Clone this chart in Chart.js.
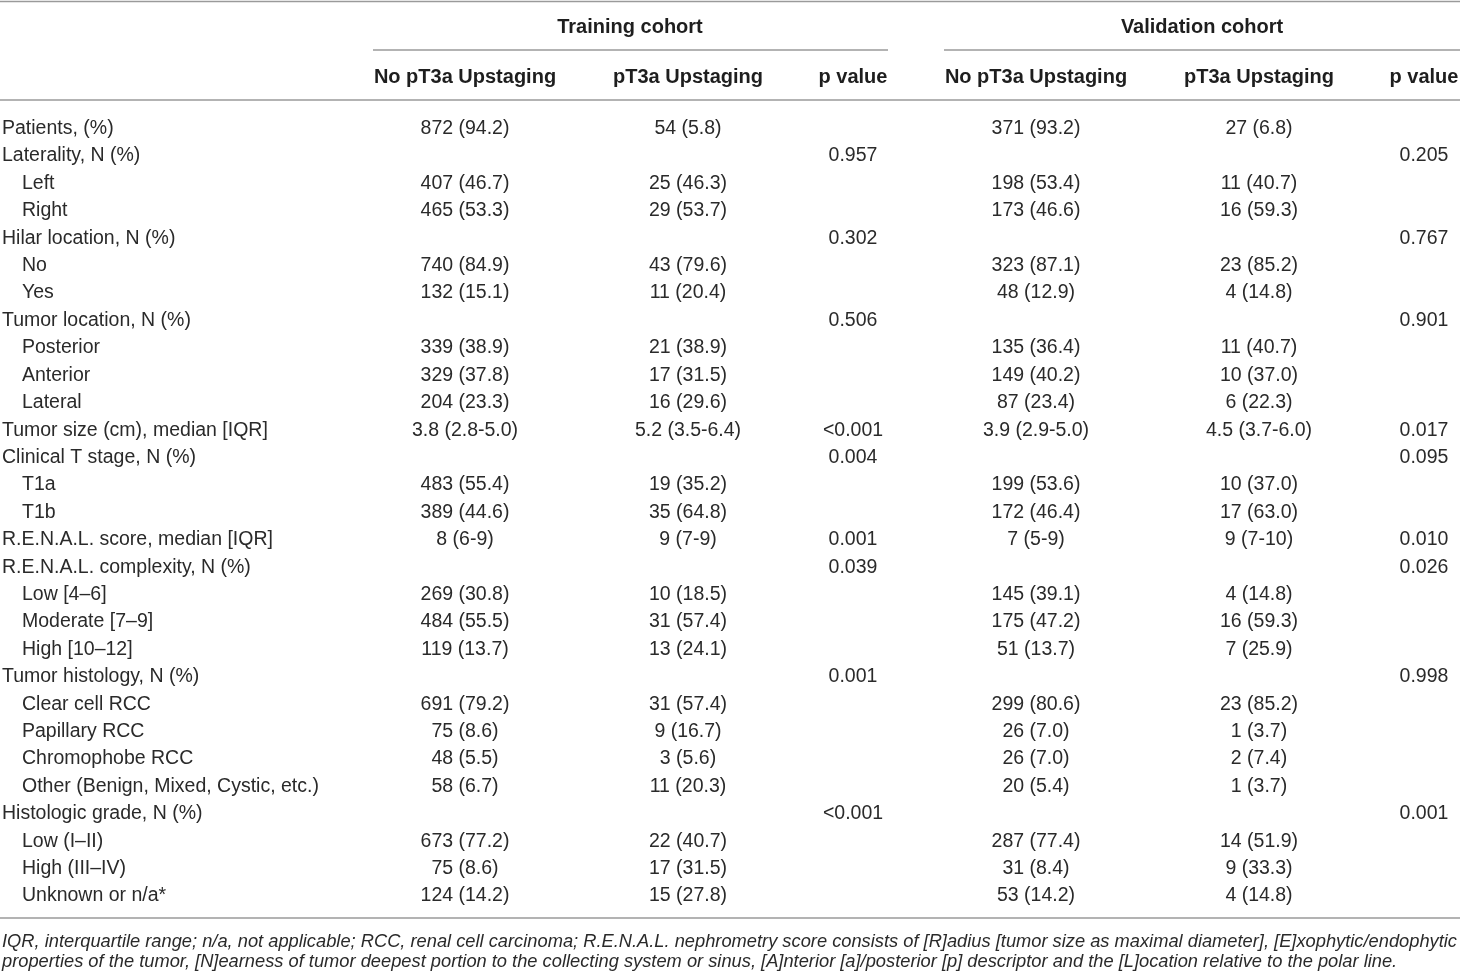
<!DOCTYPE html>
<html>
<head>
<meta charset="utf-8">
<script src="https://cdn.jsdelivr.net/npm/chart.js@4.4.1/dist/chart.umd.min.js"></script>
<style>
  html, body { margin: 0; padding: 0; background: #fff; overflow: hidden; }
  #wrap { width: 1460px; height: 975px; position: relative; }
</style>
</head>
<body>
<div id="wrap"><canvas id="tableChart"></canvas></div>
<script>
// Row labels (level 1 = indented sub-row)
const rowLabels = [
  'Patients, (%)', 'Laterality, N (%)', 'Left', 'Right',
  'Hilar location, N (%)', 'No', 'Yes',
  'Tumor location, N (%)', 'Posterior', 'Anterior', 'Lateral',
  'Tumor size (cm), median [IQR]',
  'Clinical T stage, N (%)', 'T1a', 'T1b',
  'R.E.N.A.L. score, median [IQR]',
  'R.E.N.A.L. complexity, N (%)', 'Low [4–6]', 'Moderate [7–9]', 'High [10–12]',
  'Tumor histology, N (%)', 'Clear cell RCC', 'Papillary RCC', 'Chromophobe RCC', 'Other (Benign, Mixed, Cystic, etc.)',
  'Histologic grade, N (%)', 'Low (I–II)', 'High (III–IV)', 'Unknown or n/a*'
];
const rowLevel = [0,0,1,1, 0,1,1, 0,1,1,1, 0, 0,1,1, 0, 0,1,1,1, 0,1,1,1,1, 0,1,1,1];

// Training cohort
const trainNo = [
  '872 (94.2)', '', '407 (46.7)', '465 (53.3)',
  '', '740 (84.9)', '132 (15.1)',
  '', '339 (38.9)', '329 (37.8)', '204 (23.3)',
  '3.8 (2.8-5.0)',
  '', '483 (55.4)', '389 (44.6)',
  '8 (6-9)',
  '', '269 (30.8)', '484 (55.5)', '119 (13.7)',
  '', '691 (79.2)', '75 (8.6)', '48 (5.5)', '58 (6.7)',
  '', '673 (77.2)', '75 (8.6)', '124 (14.2)'
];
const trainUp = [
  '54 (5.8)', '', '25 (46.3)', '29 (53.7)',
  '', '43 (79.6)', '11 (20.4)',
  '', '21 (38.9)', '17 (31.5)', '16 (29.6)',
  '5.2 (3.5-6.4)',
  '', '19 (35.2)', '35 (64.8)',
  '9 (7-9)',
  '', '10 (18.5)', '31 (57.4)', '13 (24.1)',
  '', '31 (57.4)', '9 (16.7)', '3 (5.6)', '11 (20.3)',
  '', '22 (40.7)', '17 (31.5)', '15 (27.8)'
];
const trainP = [
  '', '0.957', '', '',
  '0.302', '', '',
  '0.506', '', '', '',
  '<0.001',
  '0.004', '', '',
  '0.001',
  '0.039', '', '', '',
  '0.001', '', '', '', '',
  '<0.001', '', '', ''
];

// Validation cohort
const valNo = [
  '371 (93.2)', '', '198 (53.4)', '173 (46.6)',
  '', '323 (87.1)', '48 (12.9)',
  '', '135 (36.4)', '149 (40.2)', '87 (23.4)',
  '3.9 (2.9-5.0)',
  '', '199 (53.6)', '172 (46.4)',
  '7 (5-9)',
  '', '145 (39.1)', '175 (47.2)', '51 (13.7)',
  '', '299 (80.6)', '26 (7.0)', '26 (7.0)', '20 (5.4)',
  '', '287 (77.4)', '31 (8.4)', '53 (14.2)'
];
const valUp = [
  '27 (6.8)', '', '11 (40.7)', '16 (59.3)',
  '', '23 (85.2)', '4 (14.8)',
  '', '11 (40.7)', '10 (37.0)', '6 (22.3)',
  '4.5 (3.7-6.0)',
  '', '10 (37.0)', '17 (63.0)',
  '9 (7-10)',
  '', '4 (14.8)', '16 (59.3)', '7 (25.9)',
  '', '23 (85.2)', '1 (3.7)', '2 (7.4)', '1 (3.7)',
  '', '14 (51.9)', '9 (33.3)', '4 (14.8)'
];
const valP = [
  '', '0.205', '', '',
  '0.767', '', '',
  '0.901', '', '', '',
  '0.017',
  '0.095', '', '',
  '0.010',
  '0.026', '', '', '',
  '0.998', '', '', '', '',
  '0.001', '', '', ''
];

const groupHeaders = ['Training cohort', 'Validation cohort'];
const columnHeaders = ['No pT3a Upstaging', 'pT3a Upstaging', 'p value', 'No pT3a Upstaging', 'pT3a Upstaging', 'p value'];
const footnote = [
  'IQR, interquartile range; n/a, not applicable; RCC, renal cell carcinoma; R.E.N.A.L. nephrometry score consists of [R]adius [tumor size as maximal diameter], [E]xophytic/endophytic',
  'properties of the tumor, [N]earness of tumor deepest portion to the collecting system or sinus, [A]nterior [a]/posterior [p] descriptor and the [L]ocation relative to the polar line.'
];

// layout (pixels on the x scale, which runs 0..1460)
const colX = [465, 688, 853, 1036, 1259, 1424];
const labelX = [2, 22];
const FONT = '"Liberation Sans", Arial, Helvetica, sans-serif';
const textColor = '#2a2a2a';
const ruleColor = '#9a9a9a';

// one dataset per column, each point = one cell, y = row index
const bodyColumns = [trainNo, trainUp, trainP, valNo, valUp, valP];
const datasets = [{
  label: 'labels',
  align: 'left',
  data: rowLabels.map((t, i) => ({ x: labelX[rowLevel[i]], y: i, t: t }))
}].concat(bodyColumns.map((vals, c) => ({
  label: columnHeaders[c],
  align: 'center',
  data: vals.map((t, i) => ({ x: colX[c], y: i, t: t })).filter(p => p.t !== '')
})));

const tablePlugin = {
  id: 'tablePlugin',
  afterDatasetsDraw(chart) {
    const ctx = chart.ctx;
    const W = chart.width;
    ctx.save();

    // rules
    ctx.strokeStyle = ruleColor;
    ctx.lineWidth = 1.5;
    const hline = (x1, x2, y) => { ctx.beginPath(); ctx.moveTo(x1, y); ctx.lineTo(x2, y); ctx.stroke(); };
    hline(0, W, 1.5);
    hline(373, 888, 50);
    hline(944, W, 50);
    hline(0, W, 100);
    hline(0, W, 918);

    // headers
    ctx.fillStyle = '#1e1e1e';
    ctx.font = 'bold 20px ' + FONT;
    ctx.textAlign = 'center';
    ctx.textBaseline = 'alphabetic';
    ctx.fillText(groupHeaders[0], 630, 33);
    ctx.fillText(groupHeaders[1], 1202, 33);
    columnHeaders.forEach((h, c) => ctx.fillText(h, colX[c], 83));

    // body cells
    ctx.fillStyle = textColor;
    ctx.font = '19.5px ' + FONT;
    chart.data.datasets.forEach((ds, di) => {
      const meta = chart.getDatasetMeta(di);
      ctx.textAlign = ds.align;
      meta.data.forEach((el, j) => {
        ctx.fillText(ds.data[j].t, el.x, el.y);
      });
    });

    // footnote, sized so the first line fills the width
    ctx.textAlign = 'left';
    ctx.font = 'italic 16px ' + FONT;
    const w = ctx.measureText(footnote[0]).width;
    const size = 16 * 1456 / w;
    ctx.font = 'italic ' + size.toFixed(2) + 'px ' + FONT;
    ctx.fillText(footnote[0], 2, 947);
    ctx.fillText(footnote[1], 2, 967);
    ctx.restore();
  }
};

const ctx = document.getElementById('tableChart').getContext('2d');
const tableChart = new Chart(ctx, {
  type: 'scatter',
  data: { datasets: datasets },
  options: {
    responsive: true,
    maintainAspectRatio: false,
    animation: false,
    layout: { padding: 0 },
    elements: { point: { radius: 0, hoverRadius: 0 } },
    plugins: { legend: { display: false }, tooltip: { enabled: false } },
    scales: {
      x: { type: 'linear', min: 0, max: 1460, display: false },
      // row i has its text baseline at 134 + 27.41 * i px
      y: { type: 'linear', reverse: true, min: -134 / 27.41, max: (975 - 134) / 27.41, display: false }
    }
  },
  plugins: [tablePlugin]
});
</script>
</body>
</html>
